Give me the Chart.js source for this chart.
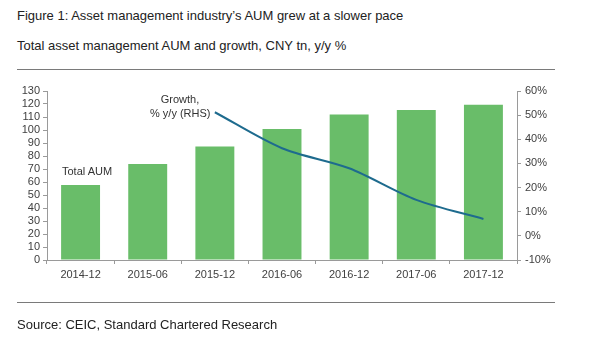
<!DOCTYPE html>
<html>
<head>
<meta charset="utf-8">
<script src="https://cdn.jsdelivr.net/npm/chart.js@4"></script>
<style>
  html, body { margin:0; padding:0; background:#fff; }
  body { width:600px; height:360px; position:relative; overflow:hidden; font-family:"Liberation Sans", Arial, sans-serif; color:#222; }
  #wrap { position:absolute; left:0; top:0; width:600px; height:360px; }
  .t { position:absolute; white-space:nowrap; }
  .rule { position:absolute; left:17px; width:538px; height:0; border-top:1.5px solid #7a7a7a; }
  .note { position:absolute; font-size:11px; color:#333; white-space:nowrap; text-align:center; line-height:14px; }
</style>
</head>
<body>
<div class="t" style="left:17px; top:8px; font-size:13px;">Figure 1: Asset management industry’s AUM grew at a slower pace</div>
<div class="t" style="left:17px; top:38px; font-size:13px;">Total asset management AUM and growth, CNY tn, y/y %</div>
<div class="rule" style="top:69px;"></div>
<div id="wrap"><canvas id="c" width="600" height="360"></canvas></div>
<div class="note" style="left:62px; top:164px;">Total AUM</div>
<div class="note" style="left:150px; top:92px; width:60px;">Growth,<br>% y/y (RHS)</div>
<div class="rule" style="top:302px;"></div>
<div class="t" style="left:17px; top:317px; font-size:13px;">Source: CEIC, Standard Chartered Research</div>
<script>
const categories = ["2014-12", "2015-06", "2015-12", "2016-06", "2016-12", "2017-06", "2017-12"];
const totalAUM = [57.7, 73.8, 87.4, 100.8, 112, 115.4, 119.5];
const growthPct = [null, null, 51.2, 36.3, 28, 14.9, 7];
const leftTicks = [0, 130, 10];
const rightTicks = [-10, 60, 10];

const axisColor = '#9a9a9a';
const tickColor = '#404040';
const tickFont = { family: '"Liberation Sans", Arial, sans-serif', size: 11 };

new Chart(document.getElementById('c'), {
  type: 'bar',
  data: {
    labels: categories,
    datasets: [
      {
        type: 'line',
        label: 'Growth, % y/y (RHS)',
        data: growthPct,
        yAxisID: 'y1',
        borderColor: '#1e6b8e',
        borderWidth: 2,
        pointRadius: 0,
        tension: 0.3,
        fill: false,
        order: 0
      },
      {
        label: 'Total AUM',
        data: totalAUM,
        yAxisID: 'y',
        backgroundColor: '#69bd69',
        categoryPercentage: 1,
        barPercentage: 0.58,
        order: 1
      }
    ]
  },
  options: {
    responsive: false,
    devicePixelRatio: 1,
    animation: false,
    layout: { padding: { top: 91, left: 0, right: 0, bottom: 0 } },
    plugins: { legend: { display: false }, tooltip: { enabled: false } },
    scales: {
      x: {
        grid: { display: true, drawOnChartArea: false, drawTicks: true, tickLength: 4, color: axisColor, offset: true },
        border: { color: axisColor, width: 1 },
        ticks: { font: tickFont, color: tickColor, padding: 4, maxRotation: 0, autoSkip: false },
        afterFit: s => { s.height = 100; }
      },
      y: {
        position: 'left',
        min: leftTicks[0], max: leftTicks[1],
        grid: { drawOnChartArea: false, drawTicks: true, tickLength: 4, color: axisColor },
        border: { color: axisColor, width: 1 },
        ticks: { stepSize: leftTicks[2], font: tickFont, color: tickColor, padding: 3, autoSkip: false },
        afterFit: s => { s.width = 47; }
      },
      y1: {
        position: 'right',
        min: rightTicks[0], max: rightTicks[1],
        grid: { drawOnChartArea: false, drawTicks: true, tickLength: 4, color: axisColor },
        border: { color: axisColor, width: 1 },
        ticks: { stepSize: rightTicks[2], font: tickFont, color: tickColor, padding: 4, autoSkip: false, callback: v => v + '%' },
        afterFit: s => { s.width = 83; }
      }
    }
  }
});
</script>
</body>
</html>
